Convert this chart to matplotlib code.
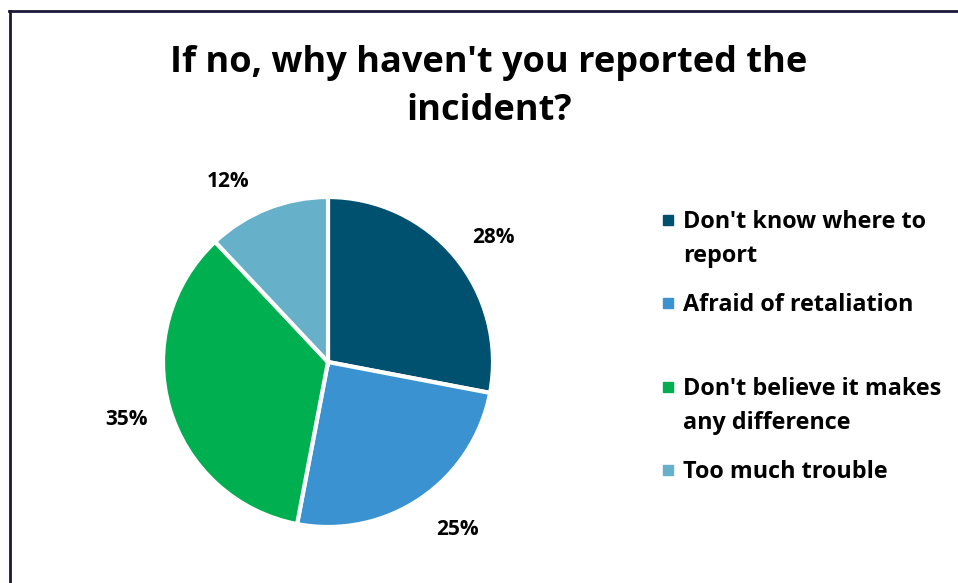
import numpy as np
import matplotlib.pyplot as plt
import matplotlib.transforms as mtransforms
from matplotlib.patches import Rectangle
from matplotlib.lines import Line2D

reasons = ["Don't know where to\nreport", "Afraid of retaliation",
           "Don't believe it makes\nany difference", "Too much trouble"]
shares = [28, 25, 35, 12]
colors = ["#00506F", "#3A92D0", "#00B050", "#66B1C9"]

plt.rcParams["font.family"] = ["Open Sans", "DejaVu Sans"]

W, H = 958, 583
fig = plt.figure(figsize=(W / 100, H / 100), dpi=100)

# pie area: centre (328, 362) px, radius 165 px
cx, cy, r = 328, 362, 165
ax = fig.add_axes([(cx - r) / W, (H - cy - r) / H, 2 * r / W, 2 * r / H])
wedges, _, pcts = ax.pie(shares, colors=colors, startangle=90, counterclock=False,
                         autopct=lambda p: f"{p:.0f}%", pctdistance=1.265,
                         wedgeprops=dict(edgecolor="white", linewidth=3),
                         textprops=dict(fontsize=15, fontweight="bold", color="black"))
ax.set_xlim(-1, 1)
ax.set_ylim(-1, 1)

# nudge the value labels round the rim so they clear the pie
angle_nudge = [-2, 4, -1, 7]
shift_down = mtransforms.ScaledTranslation(0, -3 / 100, fig.dpi_scale_trans)
for w, t, nudge in zip(wedges, pcts, angle_nudge):
    ang = np.deg2rad((w.theta1 + w.theta2) / 2 + nudge)
    t.set_position((1.265 * np.cos(ang), 1.265 * np.sin(ang)))
    t.set_transform(ax.transData + shift_down)

fig.text(489 / W, 1 - 63 / H, "If no, why haven't you reported the",
         ha="center", va="center", fontsize=26, fontweight="bold")
fig.text(489 / W, 1 - 111 / H, "incident?",
         ha="center", va="center", fontsize=26, fontweight="bold")

# legend entries placed by hand (entry centre in px from top)
entry_y = [239, 305, 406, 472]
for label, color, y in zip(reasons, colors, entry_y):
    first_line = y if "\n" not in label else y - 17
    fig.patches.append(Rectangle((663 / W, 1 - (first_line + 3) / H), 10 / W, 10 / H,
                                 transform=fig.transFigure, color=color))
    fig.text(683 / W, 1 - y / H, label, ha="left", va="center",
             fontsize=16.8, fontweight="bold", linespacing=1.57)

# chart frame (left and top edges)
fig.add_artist(Line2D([9.5 / W, 9.5 / W], [0, 1 - 10.5 / H], transform=fig.transFigure,
                      color="#1B1838", linewidth=2))
fig.add_artist(Line2D([8.5 / W, 1], [1 - 10.5 / H, 1 - 10.5 / H], transform=fig.transFigure,
                      color="#1B1838", linewidth=2))

fig.savefig("out.png", dpi=100)
